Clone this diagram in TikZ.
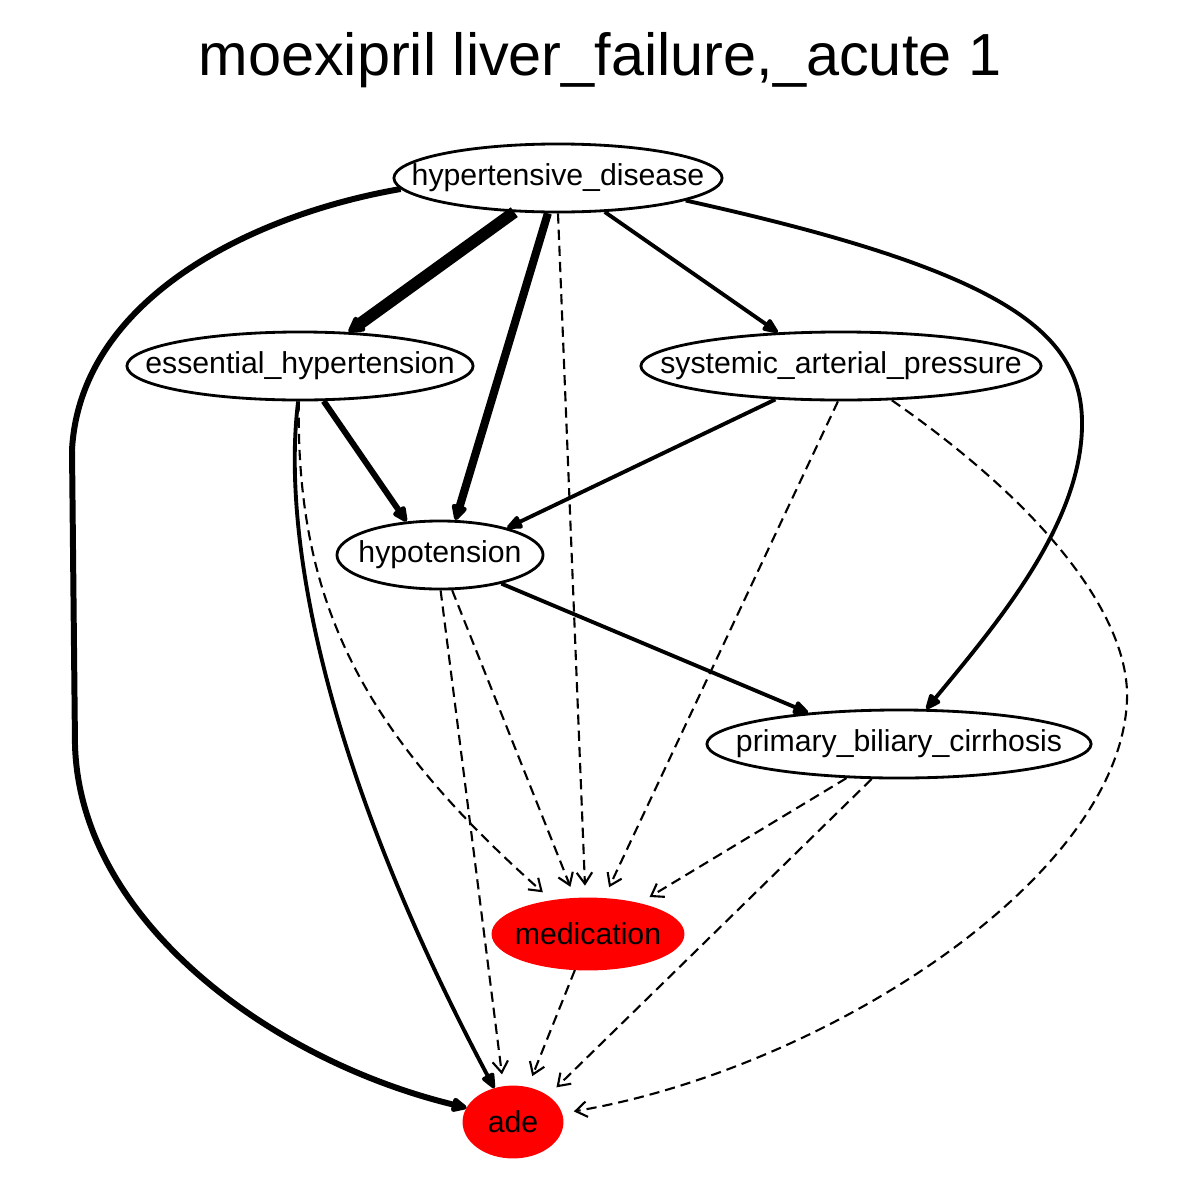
\documentclass[tikz,border=0pt]{standalone}
\usepackage{fontspec}
\setmainfont{Liberation Sans}
\usepackage{tikz}
\definecolor{adered}{RGB}{255, 0, 0}
\usetikzlibrary{shapes.geometric, arrows.meta}
\newcommand{\nowidth}[1]{\makebox[0pt]{#1}}

\begin{document}
\begin{tikzpicture}[
    x=0.01cm, y=-0.01cm,
    bubble/.style={ellipse, draw=#1, fill=#1, line width=0.8pt, inner sep=0pt,
                minimum height=0.68cm, font=\fontsize{8.6}{10}\selectfont},
    bubble/.default=white,
    edge/.style={line width=#1, line join=round,
                -{Triangle[round, length=5.2pt, width=3.4pt 0.6]}},
    dep/.style={line width=0.6pt, dash pattern=on 2.9pt off 1.7pt,
                -{Straight Barb[length=3.2pt, width=4.4pt]}, shorten >=3.4pt}
]
    \useasboundingbox (0,0) rectangle (1200,1200);
    \node[font=\fontsize{16.9}{20}\selectfont] (title) at (600,60) {moexipril liver\_failure,\_acute 1};

    % Nodes
    \node[bubble, draw=black, minimum width=3.28cm] (hd) at (558,178) {\nowidth{hypertensive\_disease}};
    \node[bubble, draw=black, minimum width=3.46cm] (eh) at (300,366) {\nowidth{essential\_hypertension}};
    \node[bubble, draw=black, minimum width=4.00cm] (sap) at (841,366) {\nowidth{systemic\_arterial\_pressure}};
    \node[bubble, draw=black, minimum width=2.06cm] (hypo) at (440,555) {\nowidth{hypotension}};
    \node[bubble, draw=black, minimum width=3.84cm] (pbc) at (899,744) {\nowidth{primary\_biliary\_cirrhosis}};
    \node[bubble=adered, minimum width=1.90cm, minimum height=0.70cm] (med) at (588,934) {\nowidth{medication}};
    \node[bubble=adered, minimum width=0.98cm, minimum height=0.70cm] (ade) at (513,1122) {\nowidth{ade}};

    % Arrows - solid
    \draw[edge=3.4pt] (hd.218) -- (eh.35);
    \draw[edge=2.3pt] (hd.254) -- (hypo.66);
    \draw[edge=1.1pt] (hd.324) -- (sap.152);
    \draw[edge=1.1pt] (hd.350) .. controls (1000,270) and (1080,330) .. (1082,420)
        .. controls (1084,520) and (1000,620) .. (pbc.52);
    \draw[edge=1.7pt] (hd.184) .. controls (250,215) and (80,300) .. (72,450)
        -- (75,745) .. controls (80,920) and (270,1060) .. (ade.163);
    \draw[edge=1.7pt] (eh.304) -- (hypo.135);
    \draw[edge=1.1pt] (eh.267) .. controls (282,530) and (320,760) .. (ade.119);
    \draw[edge=1.1pt] (sap.207) -- (hypo.22);
    \draw[edge=1.1pt] (hypo.335) -- (pbc.161);

    % Arrows - dashed
    \draw[dep] (hd.270) -- (med.94);
    \draw[dep] (eh.268) .. controls (296,600) and (360,730) .. (med.137);
    \draw[dep] (sap.265) -- (med.66);
    \draw[dep] (sap.326) .. controls (1050,510) and (1130,620) .. (1127,700)
        .. controls (1120,880) and (820,1070) .. (ade.10);
    \draw[dep] (hypo.289) -- (med.110);
    \draw[dep] (hypo.271) -- (ade.105);
    \draw[dep] (pbc.213) -- (med.31);
    \draw[dep] (pbc.232) -- (ade.37);
    \draw[dep] (med.250) -- (ade.67);
\end{tikzpicture}
\end{document}
